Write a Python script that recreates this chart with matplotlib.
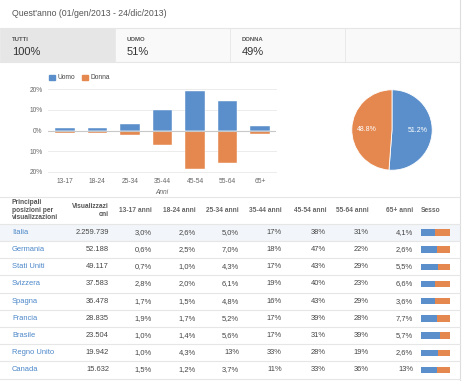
import matplotlib
matplotlib.use("Agg")
from matplotlib import pyplot as plt
from matplotlib.patches import Rectangle

plt.rcParams['font.family'] = ['Liberation Sans', 'DejaVu Sans']

BLUE = '#5b8fcb'
ORANGE = '#e5884f'
GREY = '#444444'

# --- data ---
fasce = ['13-17', '18-24', '25-34', '35-44', '45-54', '55-64', '65+']
uomo_pct = [1.1, 1.1, 3.1, 9.8, 18.9, 14.2, 2.3]
donna_pct = [1.3, 1.1, 2.1, 6.9, 18.5, 15.5, 1.6]

sesso_labels = ['Uomo', 'Donna']
sesso_pct = [51.2, 48.8]

tab_nomi = ['TUTTI', 'UOMO', 'DONNA']
tab_valori = ['100%', '51%', '49%']

paesi = ['Italia', 'Germania', 'Stati Uniti', 'Svizzera', 'Spagna',
         'Francia', 'Brasile', 'Regno Unito', 'Canada']
visualizzazioni = ['2.259.739', '52.188', '49.117', '37.583', '36.478',
                   '28.835', '23.504', '19.942', '15.632']
col_13_17 = ['3,0%', '0,6%', '0,7%', '2,8%', '1,7%', '1,9%', '1,0%', '1,0%', '1,5%']
col_18_24 = ['2,6%', '2,5%', '1,0%', '2,0%', '1,5%', '1,7%', '1,4%', '4,3%', '1,2%']
col_25_34 = ['5,0%', '7,0%', '4,3%', '6,1%', '4,8%', '5,2%', '5,6%', '13%', '3,7%']
col_35_44 = ['17%', '18%', '17%', '19%', '16%', '17%', '17%', '33%', '11%']
col_45_54 = ['38%', '47%', '43%', '40%', '43%', '39%', '31%', '28%', '33%']
col_55_64 = ['31%', '22%', '29%', '23%', '29%', '28%', '39%', '19%', '36%']
col_65 = ['4,1%', '2,6%', '5,5%', '6,6%', '3,6%', '7,7%', '5,7%', '2,6%', '13%']
quota_uomo = [0.49, 0.55, 0.59, 0.49, 0.49, 0.56, 0.65, 0.58, 0.55]

W, H = 470, 381
fig = plt.figure(figsize=(W / 100, H / 100), dpi=100)

# background canvas in pixel coords
bg = fig.add_axes([0, 0, 1, 1])
bg.set_xlim(0, W)
bg.set_ylim(H, 0)
bg.axis('off')

def hline(y, x0=0, x1=460, c='#e6e6e6', lw=0.8):
    bg.plot([x0, x1], [y, y], color=c, lw=lw)

# title
bg.text(12, 13, "Quest'anno (01/gen/2013 - 24/dic/2013)", fontsize=6.3,
        color='#555555', va='center')
hline(27.5)
bg.plot([460, 460], [0, H], color='#dddddd', lw=0.8)

# tabs
for i in range(4):
    x0 = i * 115
    col = '#e6e6e6' if i == 0 else '#f9f9f9'
    bg.add_patch(Rectangle((x0, 28), 115, 34, facecolor=col, edgecolor='#e8e8e8', lw=0.6))
for i, (n, v) in enumerate(zip(tab_nomi, tab_valori)):
    x0 = i * 115 + 12
    bg.text(x0, 39.5, n, fontsize=4.3, fontweight='bold', color='#555555', va='center')
    bg.text(x0, 52, v, fontsize=8, color='#333333', va='center')
hline(62)

# --- bar chart ---
def px_axes(x0, y0, x1, y1):
    return fig.add_axes([x0 / W, 1 - y1 / H, (x1 - x0) / W, (y1 - y0) / H])

ax = px_axes(48, 89, 276, 172)
x = range(len(fasce))
ax.bar(x, uomo_pct, width=0.6, color=BLUE, edgecolor='white', lw=0.3, zorder=3)
ax.bar(x, [-d for d in donna_pct], width=0.6, color=ORANGE, edgecolor='white', lw=0.3, zorder=3)
ax.set_xlim(-0.52, 6.49)
ax.set_ylim(-20, 20)
ax.set_yticks([-20, -10, 0, 10, 20])
ax.set_yticklabels(['20%', '10%', '0%', '10%', '20%'])
ax.set_xticks(list(x))
ax.set_xticklabels(fasce)
for yv in [-20, -10, 10, 20]:
    ax.axhline(yv, color='#ececec', lw=0.7, zorder=1, clip_on=False)
ax.axhline(0, color='#c8c8c8', lw=0.8, zorder=4)
for s in ax.spines.values():
    s.set_visible(False)
ax.tick_params(length=0, labelsize=4.8, colors='#666666', pad=4)
ax.patch.set_alpha(0)
ax.set_xlabel('Anni', fontsize=4.8, style='italic', color='#666666', labelpad=3)

# legend
bg.add_patch(Rectangle((49, 74.5), 5.5, 5.5, color=BLUE))
bg.text(57, 77.3, sesso_labels[0], fontsize=4.8, color='#444444', va='center')
bg.add_patch(Rectangle((82, 74.5), 5.5, 5.5, color=ORANGE))
bg.text(90.5, 77.3, sesso_labels[1], fontsize=4.8, color='#444444', va='center')

# --- pie ---
pax = px_axes(351, 89, 433, 171)
pax.pie(sesso_pct, colors=[BLUE, ORANGE], startangle=90, counterclock=False,
        autopct='%.1f%%', pctdistance=0.63,
        wedgeprops=dict(edgecolor='white', lw=0.6),
        textprops=dict(color='white', fontsize=5))
pax.set_xlim(-1.02, 1.02)
pax.set_ylim(-1.02, 1.02)
pax.set_aspect('equal')

# --- table ---
hline(197)
bg.text(12, 210, 'Principali\nposizioni per\nvisualizzazioni', fontsize=4.8,
        fontweight='bold', color='#555555', va='center', linespacing=1.05)
bg.text(109, 210.5, 'Visualizzazi\noni', fontsize=4.8, fontweight='bold',
        color='#555555', va='center', ha='right', linespacing=1.1)
col_right = [152, 196, 239, 282, 326, 369, 413]
col_head = [f + ' anni' for f in fasce]
for xr, h in zip(col_right, col_head):
    bg.text(xr, 210.7, h, fontsize=4.8, fontweight='bold', color='#666666',
            va='center', ha='right')
bg.text(421, 210.7, 'Sesso', fontsize=4.8, fontweight='bold', color='#666666', va='center')
hline(223.7)

cols = [col_13_17, col_18_24, col_25_34, col_35_44, col_45_54, col_55_64, col_65]
row_h = 17.2
for i, paese in enumerate(paesi):
    yc = 232.3 + i * row_h
    if i == 0:
        bg.add_patch(Rectangle((0, yc - row_h / 2), 460, row_h, color='#f2f5f9', lw=0))
    bg.text(12, yc, paese, fontsize=5.4, color='#4a86c8', va='center')
    bg.text(109, yc, visualizzazioni[i], fontsize=5.4, color=GREY, va='center', ha='right')
    for xr, c in zip(col_right, cols):
        bg.text(xr, yc, c[i], fontsize=5.4, color=GREY, va='center', ha='right')
    wb = 28.5
    bg.add_patch(Rectangle((421, yc - 3.2), wb * quota_uomo[i], 6.4, color=BLUE, lw=0))
    bg.add_patch(Rectangle((421 + wb * quota_uomo[i], yc - 3.2), wb * (1 - quota_uomo[i]), 6.4,
                           color=ORANGE, lw=0))
    hline(yc + row_h / 2)

fig.savefig('out.png', dpi=100)
